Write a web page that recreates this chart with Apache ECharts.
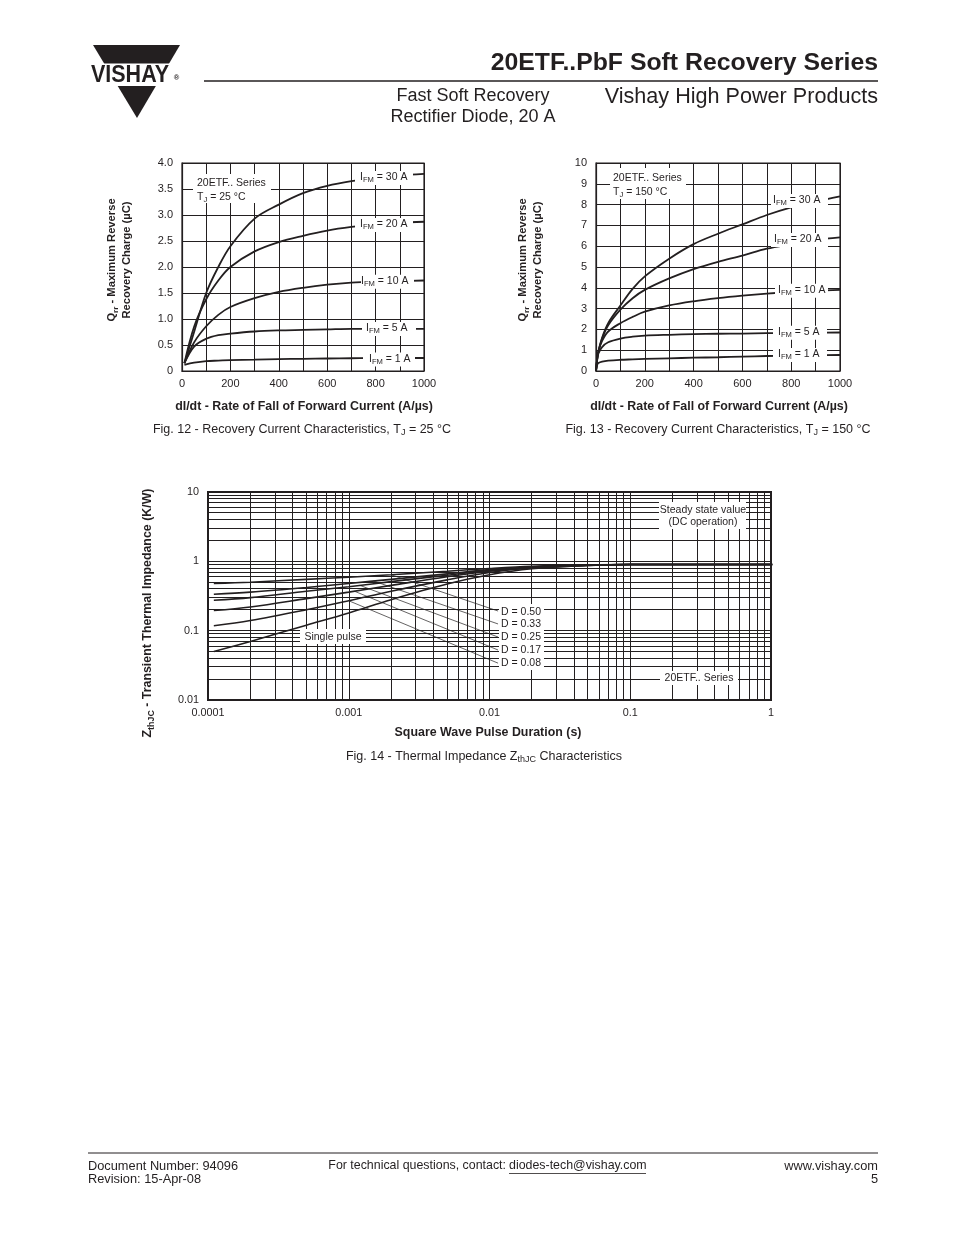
<!DOCTYPE html>
<html><head><meta charset="utf-8">
<script src="https://cdn.jsdelivr.net/npm/echarts@6/dist/echarts.min.js"></script>
<style>html,body{margin:0;padding:0;background:#fff}#c{width:954px;height:1235px}</style>
</head><body><div id="c"></div>
<script>
// ---------------- DATA ----------------
// Fig. 12 - Qrr vs dI/dt, TJ = 25 °C
const f12X = [10, 50, 100, 150, 200, 300, 400, 500, 600, 700, 800, 900, 1000];
const f12_30A = [0.15, 0.75, 1.5, 2.0, 2.4, 2.93, 3.2, 3.42, 3.56, 3.65, 3.71, 3.76, 3.79];
const f12_20A = [0.15, 0.85, 1.38, 1.74, 2.0, 2.3, 2.48, 2.6, 2.7, 2.77, 2.82, 2.85, 2.87];
const f12_10A = [0.15, 0.55, 0.86, 1.08, 1.23, 1.4, 1.52, 1.6, 1.66, 1.7, 1.72, 1.73, 1.74];
const f12_5A  = [0.15, 0.47, 0.62, 0.69, 0.72, 0.76, 0.78, 0.79, 0.80, 0.81, 0.81, 0.81, 0.81];
const f12_1A  = [0.12, 0.16, 0.19, 0.20, 0.21, 0.22, 0.23, 0.235, 0.24, 0.245, 0.25, 0.25, 0.25];
const f12XLabels = ['0', '', '200', '', '400', '', '600', '', '800', '', '1000'];
const f12YLabels = ['0', '0.5', '1.0', '1.5', '2.0', '2.5', '3.0', '3.5', '4.0'];

// Fig. 13 - Qrr vs dI/dt, TJ = 150 °C
const f13X = [0, 5, 10, 25, 50, 100, 150, 200, 300, 400, 500, 600, 700, 800, 900, 1000];
const f13_30A = [0, 0.6, 0.95, 1.6, 2.3, 3.15, 3.95, 4.55, 5.4, 6.1, 6.6, 7.05, 7.5, 7.87, 8.15, 8.4];
const f13_20A = [0, 0.6, 0.95, 1.55, 2.2, 2.95, 3.5, 3.9, 4.45, 4.9, 5.25, 5.55, 5.88, 6.1, 6.3, 6.42];
const f13_10A = [0, 0.6, 0.95, 1.45, 1.9, 2.3, 2.6, 2.85, 3.15, 3.35, 3.5, 3.62, 3.72, 3.8, 3.86, 3.9];
const f13_5A  = [0, 0.55, 0.85, 1.15, 1.38, 1.56, 1.65, 1.7, 1.74, 1.77, 1.79, 1.8, 1.82, 1.83, 1.84, 1.85];
const f13_1A  = [0, 0.3, 0.38, 0.45, 0.5, 0.54, 0.56, 0.58, 0.61, 0.64, 0.66, 0.69, 0.72, 0.74, 0.76, 0.77];
const f13XLabels = ['0', '', '200', '', '400', '', '600', '', '800', '', '1000'];
const f13YLabels = ['0', '1', '2', '3', '4', '5', '6', '7', '8', '9', '10'];

// Fig. 14 - ZthJC vs pulse duration
const f14X = [1.1e-4, 2e-4, 5e-4, 1e-3, 2e-3, 5e-3, 1e-2, 2e-2, 5e-2, 0.1, 0.2, 0.5, 1.02];
const f14_D50 = [0.48, 0.50, 0.55, 0.59, 0.64, 0.72, 0.79, 0.85, 0.89, 0.90, 0.90, 0.90, 0.90];
const f14_D33 = [0.335, 0.36, 0.42, 0.48, 0.55, 0.66, 0.76, 0.83, 0.88, 0.90, 0.90, 0.90, 0.90];
const f14_D25 = [0.275, 0.30, 0.37, 0.43, 0.51, 0.63, 0.74, 0.82, 0.88, 0.90, 0.90, 0.90, 0.90];
const f14_D17 = [0.195, 0.22, 0.29, 0.36, 0.45, 0.60, 0.72, 0.81, 0.88, 0.90, 0.90, 0.90, 0.90];
const f14_D08 = [0.118, 0.14, 0.20, 0.27, 0.37, 0.54, 0.69, 0.80, 0.87, 0.90, 0.90, 0.90, 0.90];
const f14_SP  = [0.05, 0.07, 0.12, 0.18, 0.28, 0.47, 0.64, 0.78, 0.87, 0.90, 0.90, 0.90, 0.90];
const f14XLabels = ['0.0001', '0.001', '0.01', '0.1', '1'];
const f14YLabels = ['0.01', '0.1', '1', '10'];
// leader lines from curves to the D labels: [from x, from y, to x, to y]
const f14Leaders = [
  [0.0020, 0.64, 0.0115, 0.192],
  [0.0015, 0.52, 0.0115, 0.125],
  [0.0012, 0.45, 0.0115, 0.081],
  [0.0011, 0.37, 0.0115, 0.0526],
  [0.0010, 0.27, 0.0115, 0.034]
];

// ---------------- STYLE ----------------
const FONT = "'Liberation Sans', Arial, Helvetica, sans-serif";
const INK = '#231f20';

function pairs(xs, ys) { return xs.map((x, i) => [x, ys[i]]); }

function valAxis(gi, min, max, interval, labels, isX) {
  return {
    gridIndex: gi, type: 'value', min, max, interval,
    axisLine: { show: true, onZero: false, lineStyle: { color: INK, width: 1.2 } },
    axisTick: { show: false },
    axisLabel: { color: INK, fontFamily: FONT, fontSize: 11, margin: isX ? 7 : 9,
      formatter: v => { const s = labels[Math.round((v - min) / interval)]; return s === undefined ? '' : s; } },
    splitLine: { show: true, lineStyle: { color: INK, width: 1 } }
  };
}
function logAxis(gi, min, max, labels, isX) {
  const k0 = Math.round(Math.log10(min));
  return {
    gridIndex: gi, type: 'log', logBase: 10, min, max,
    axisLine: { show: true, onZero: false, lineStyle: { color: INK, width: 2 } },
    axisTick: { show: false },
    axisLabel: { color: INK, fontFamily: FONT, fontSize: 10.8, margin: isX ? 8 : 9,
      formatter: v => { const s = labels[Math.round(Math.log10(v)) - k0]; return s === undefined ? '' : s; } },
    splitLine: { show: true, lineStyle: { color: INK, width: 1 } }
  };
}
function curve(gi, xs, ys, w) {
  return { type: 'line', xAxisIndex: gi, yAxisIndex: gi, data: pairs(xs, ys), showSymbol: false,
    smooth: 0.35, lineStyle: { color: INK, width: w || 1.8 }, emphasis: { disabled: true }, z: 3, silent: true };
}

// log grid lines for fig 14 (2..9 x each decade)
const vGrid = [], hGrid = [];
for (let k = -4; k < 0; k++) for (let m = 2; m <= 9; m++) vGrid.push(m * Math.pow(10, k));
for (let k = -2; k < 1; k++) for (let m = 2; m <= 9; m++) hGrid.push(m * Math.pow(10, k));
function gridLineSeries(values, vertical) {
  return {
    type: 'custom', xAxisIndex: 2, yAxisIndex: 2, z: 1, silent: true, clip: false,
    data: values.map(v => vertical ? [v, 1] : [1e-3, v]),
    renderItem: (params, api) => {
      let a, b;
      if (vertical) { a = api.coord([api.value(0), 0.01]); b = api.coord([api.value(0), 10]); }
      else { a = api.coord([1e-4, api.value(1)]); b = api.coord([1, api.value(1)]); }
      const r = v => Math.round(v - 0.5) + 0.5;
      return vertical
        ? { type: 'line', shape: { x1: r(a[0]), y1: a[1], x2: r(b[0]), y2: b[1] }, style: { stroke: INK, lineWidth: 1 } }
        : { type: 'line', shape: { x1: a[0], y1: r(a[1]), x2: b[0], y2: r(b[1]) }, style: { stroke: INK, lineWidth: 1 } };
    }
  };
}

// ---------------- GRAPHIC (texts) ----------------
const G = [];
function rich(size, bold) {
  const w = bold ? 'bold' : 'normal';
  const ss = Math.round(size * 0.72 * 10) / 10;
  return {
    n: { fontSize: size, fontFamily: FONT, fontWeight: w, fill: INK, lineHeight: size + 2, verticalAlign: 'top' },
    s: { fontSize: ss, fontFamily: FONT, fontWeight: w, fill: INK, lineHeight: ss, verticalAlign: 'bottom', padding: [Math.round(size * 0.55), 0, 0, 0] }
  };
}
function txt(x, y, text, o) {
  o = o || {};
  const st = { text, fill: INK, fontFamily: FONT, fontSize: o.size || 11, fontWeight: o.bold ? 'bold' : 'normal',
    align: o.align || 'center', verticalAlign: 'middle' };
  if (o.rich) st.rich = rich(o.size || 11, o.bold);
  G.push({ type: 'text', x, y, z: 30, rotation: o.rot || 0, scaleY: o.sy || 1, style: st, silent: true });
}
function box(x, y, w, h) { G.push({ type: 'rect', z: 20, shape: { x, y, width: w, height: h }, style: { fill: '#fff' }, silent: true }); }
function ln(x1, y1, x2, y2, w) { G.push({ type: 'line', z: 30, shape: { x1, y1, x2, y2 }, style: { stroke: INK, lineWidth: w || 1 }, silent: true }); }

// logo
G.push({ type: 'polygon', z: 20, shape: { points: [[93, 45], [180, 45], [137, 118]] }, style: { fill: INK }, silent: true });
box(85, 63.5, 100, 22.5);
txt(130, 75, 'VISHAY', { size: 21.5, bold: true, sy: 1.12 });
txt(176.5, 77.5, '®', { size: 7.5, bold: true });

// header
txt(878, 63, '20ETF..PbF Soft Recovery Series', { size: 24.8, bold: true, align: 'right' });
ln(204, 81, 878, 81, 1.6);
txt(473, 96, 'Fast Soft Recovery', { size: 18 });
txt(473, 117, 'Rectifier Diode, 20 A', { size: 18 });
txt(878, 97, 'Vishay High Power Products', { size: 21.6, align: 'right' });

// Fig 12 annotations
box(193, 174, 78, 29);
txt(197, 183, '20ETF.. Series', { size: 10.5, align: 'left' });
txt(197, 197.5, '{n|T}{s|J}{n| = 25 °C}', { size: 10.5, align: 'left', rich: true });
[[178, 355, 413, 360, '30'], [225, 355, 413, 360, '20'], [281.7, 361, 414, 361, '10'], [329, 362, 416, 366, '5'], [359.5, 363, 415, 369, '1']]
  .forEach(a => { box(a[1], a[0] - 7, a[2] - a[1], 14); txt(a[3], a[0], '{n|I}{s|FM}{n| = ' + a[4] + ' A}', { size: 10.5, align: 'left', rich: true }); });
txt(113.5, 260, '{n|Q}{s|rr}{n| - Maximum Reverse}', { size: 11.2, bold: true, rot: Math.PI / 2, rich: true });
txt(126.5, 260, 'Recovery Charge (µC)', { size: 11.2, bold: true, rot: Math.PI / 2 });
txt(304, 407, 'dI/dt - Rate of Fall of Forward Current (A/µs)', { size: 12.4, bold: true });
txt(302, 430, '{n|Fig. 12 - Recovery Current Characteristics, T}{s|J}{n| = 25 °C}', { size: 12.5, rich: true });

// Fig 13 annotations
box(610, 168, 76, 31);
txt(613, 178, '20ETF.. Series', { size: 10.5, align: 'left' });
txt(613, 193, '{n|T}{s|J}{n| = 150 °C}', { size: 10.5, align: 'left', rich: true });
[[201, 771, 828, 773, '30'], [240, 771, 828, 774, '20'], [290.7, 775, 828, 778, '10'], [332.7, 773, 827, 778, '5'], [355, 773, 827, 778, '1']]
  .forEach(a => { box(a[1], a[0] - 7, a[2] - a[1], 14); txt(a[3], a[0], '{n|I}{s|FM}{n| = ' + a[4] + ' A}', { size: 10.5, align: 'left', rich: true }); });
txt(524.5, 260, '{n|Q}{s|rr}{n| - Maximum Reverse}', { size: 11.2, bold: true, rot: Math.PI / 2, rich: true });
txt(537.5, 260, 'Recovery Charge (µC)', { size: 11.2, bold: true, rot: Math.PI / 2 });
txt(719, 407, 'dI/dt - Rate of Fall of Forward Current (A/µs)', { size: 12.4, bold: true });
txt(718, 430, '{n|Fig. 13 - Recovery Current Characteristics, T}{s|J}{n| = 150 °C}', { size: 12.5, rich: true });

// Fig 14 annotations
box(659, 502, 87, 27);
txt(703, 510, 'Steady state value', { size: 10.5 });
txt(703, 522.5, '(DC operation)', { size: 10.5 });
box(660, 671, 78, 14);
txt(699, 678, '20ETF.. Series', { size: 10.5 });
box(300, 629, 66, 15);
txt(333, 636.7, 'Single pulse', { size: 10.5 });
box(499, 604, 45, 66);
['D = 0.50', 'D = 0.33', 'D = 0.25', 'D = 0.17', 'D = 0.08'].forEach((t, i) => txt(501, [611.7, 624, 637.5, 650.3, 663.3][i], t, { size: 10.5, align: 'left' }));
txt(149, 613, '{n|Z}{s|thJC}{n| - Transient Thermal Impedance (K/W)}', { size: 12.4, bold: true, rot: Math.PI / 2, rich: true });
txt(488, 733, 'Square Wave Pulse Duration (s)', { size: 12.4, bold: true });
txt(484, 757, '{n|Fig. 14 - Thermal Impedance Z}{s|thJC}{n| Characteristics}', { size: 12.5, rich: true });

// footer
ln(88, 1153, 878, 1153, 1);
txt(88, 1166, 'Document Number: 94096', { size: 12.8, align: 'left' });
txt(88, 1179, 'Revision: 15-Apr-08', { size: 12.8, align: 'left' });
txt(506, 1166, 'For technical questions, contact:', { size: 12.4, align: 'right' });
txt(509, 1166, 'diodes-tech@vishay.com', { size: 12.4, align: 'left' });
ln(509, 1173.5, 646, 1173.5, 0.8);
txt(878, 1166, 'www.vishay.com', { size: 12.8, align: 'right' });
txt(878, 1179, '5', { size: 12.8, align: 'right' });

// ---------------- OPTION ----------------
const gridCommon = { show: true, borderColor: INK, borderWidth: 1.2, backgroundColor: 'transparent', containLabel: false };
const option = {
  animation: false,
  backgroundColor: '#fff',
  grid: [
    Object.assign({ left: 182, top: 163, width: 242, height: 208 }, gridCommon),
    Object.assign({ left: 596, top: 163, width: 244, height: 208 }, gridCommon),
    Object.assign({ left: 208, top: 492, width: 563, height: 208 }, gridCommon, { borderWidth: 2 })
  ],
  xAxis: [
    valAxis(0, 0, 1000, 100, f12XLabels, true),
    valAxis(1, 0, 1000, 100, f13XLabels, true),
    logAxis(2, 1e-4, 1, f14XLabels, true)
  ],
  yAxis: [
    valAxis(0, 0, 4, 0.5, f12YLabels, false),
    valAxis(1, 0, 10, 1, f13YLabels, false),
    logAxis(2, 0.01, 10, f14YLabels, false)
  ],
  series: [
    curve(0, f12X, f12_30A), curve(0, f12X, f12_20A), curve(0, f12X, f12_10A), curve(0, f12X, f12_5A), curve(0, f12X, f12_1A),
    curve(1, f13X, f13_30A), curve(1, f13X, f13_20A), curve(1, f13X, f13_10A), curve(1, f13X, f13_5A), curve(1, f13X, f13_1A),
    curve(2, f14X, f14_D50, 1.6), curve(2, f14X, f14_D33, 1.6), curve(2, f14X, f14_D25, 1.6),
    curve(2, f14X, f14_D17, 1.6), curve(2, f14X, f14_D08, 1.6), curve(2, f14X, f14_SP, 1.6),
    gridLineSeries(vGrid, true),
    gridLineSeries(hGrid, false),
    { type: 'line', xAxisIndex: 2, yAxisIndex: 2, data: [], z: 4, silent: true,
      markLine: { silent: true, symbol: ['none', 'none'], animation: false, label: { show: false },
        lineStyle: { color: INK, width: 0.7, type: 'solid' }, emphasis: { disabled: true },
        data: f14Leaders.map(l => [{ coord: [l[0], l[1]] }, { coord: [l[2], l[3]] }]) } }
  ],
  graphic: G
};
const chart = echarts.init(document.getElementById('c'), null, { renderer: 'canvas', width: 954, height: 1235 });
chart.setOption(option);
</script></body></html>
